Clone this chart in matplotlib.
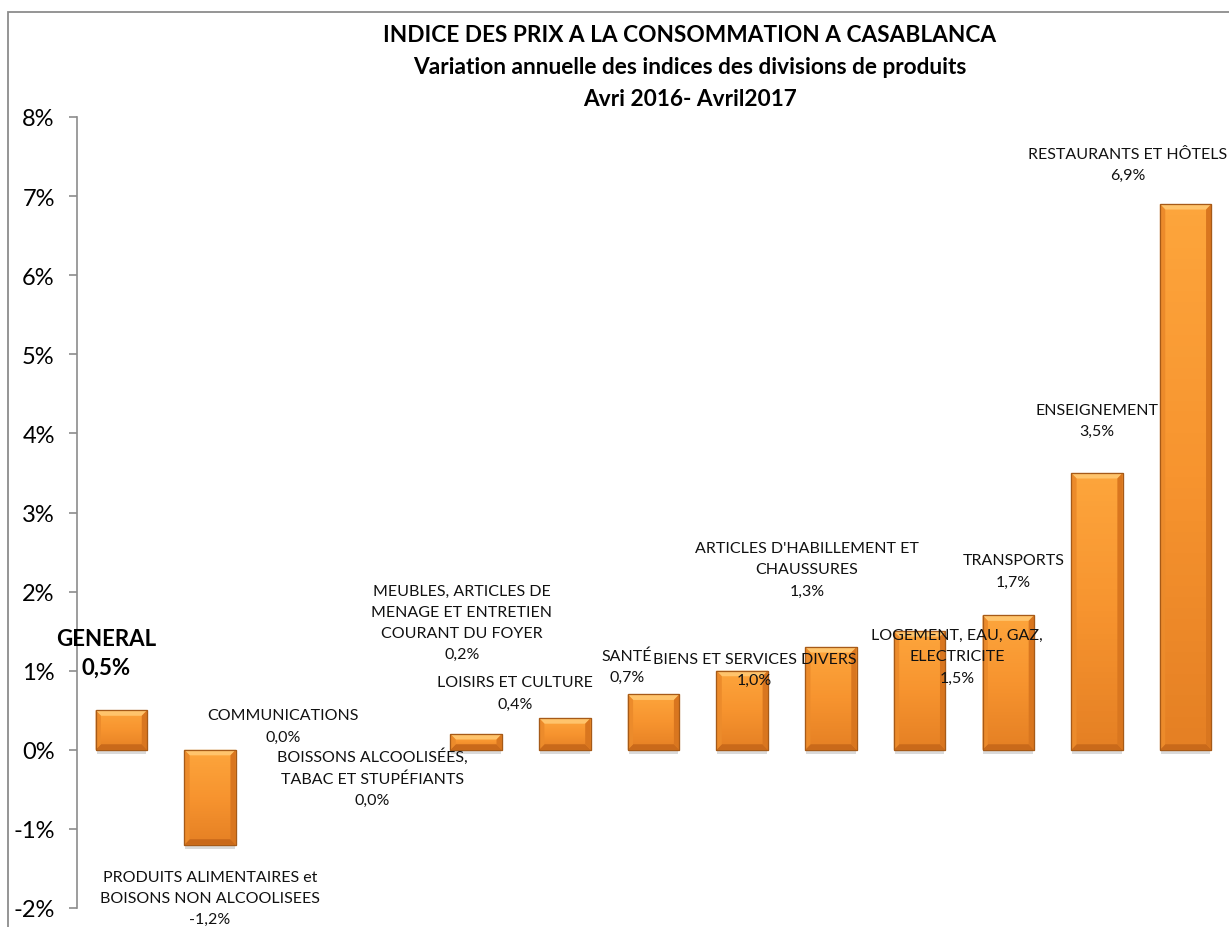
import numpy as np
import matplotlib.pyplot as plt
from matplotlib.patches import Polygon, Rectangle
from matplotlib.colors import LinearSegmentedColormap

plt.rcParams['font.family'] = ['Lato', 'DejaVu Sans']

# data
categories = [
    "GENERAL",
    "PRODUITS ALIMENTAIRES et\nBOISONS NON ALCOOLISEES",
    "COMMUNICATIONS",
    "BOISSONS ALCOOLISÉES,\nTABAC ET STUPÉFIANTS",
    "MEUBLES, ARTICLES DE\nMENAGE ET ENTRETIEN\nCOURANT DU FOYER",
    "LOISIRS ET CULTURE",
    "SANTÉ",
    "BIENS ET SERVICES DIVERS",
    "ARTICLES D'HABILLEMENT ET\nCHAUSSURES",
    "LOGEMENT, EAU, GAZ,\nELECTRICITE",
    "TRANSPORTS",
    "ENSEIGNEMENT",
    "RESTAURANTS ET HÔTELS",
]
values = [0.5, -1.2, 0.0, 0.0, 0.2, 0.4, 0.7, 1.0, 1.3, 1.5, 1.7, 3.5, 6.9]
value_labels = ["0,5%", "-1,2%", "0,0%", "0,0%", "0,2%", "0,4%", "0,7%",
                "1,0%", "1,3%", "1,5%", "1,7%", "3,5%", "6,9%"]
y_ticks = [-2, -1, 0, 1, 2, 3, 4, 5, 6, 7, 8]
title_lines = ["INDICE DES PRIX A LA CONSOMMATION A CASABLANCA",
               "Variation annuelle des indices des divisions de produits",
               "Avri 2016- Avril2017"]

# where each data label sits (category units, percent)
label_pos = [(-0.17, 1.23), (1.0, -1.87), (1.82, 0.30), (2.83, -0.35),
             (3.84, 1.61), (4.44, 0.72), (5.70, 1.06), (7.14, 1.02),
             (7.73, 2.28), (9.42, 1.18), (10.06, 2.26), (11.0, 4.16),
             (11.35, 7.40)]

fig = plt.figure(figsize=(12.29, 9.28), dpi=100)
ax = fig.add_axes([77 / 1229, 1 - 909 / 928, 1153 / 1229, (909 - 118) / 928])

x = np.arange(len(values))
bars = ax.bar(x, values, width=0.58, color='#F79530', edgecolor='#B0621C',
              linewidth=0.8, zorder=2)

grad = LinearSegmentedColormap.from_list('org', ['#FDA53C', '#F7942F', '#E58024'])
bx, by = 0.06, 0.07
for b in bars:
    x0, w = b.get_x(), b.get_width()
    y0, h = b.get_y(), b.get_height()
    if h == 0:
        b.set_visible(False)
        continue
    lo, hi = min(y0, y0 + h), max(y0, y0 + h)
    im = ax.imshow(np.linspace(0, 1, 50).reshape(-1, 1), cmap=grad, aspect='auto',
                   extent=[x0, x0 + w, lo, hi], origin='upper', zorder=2.1)
    im.set_clip_path(b)
    d = min(by, (hi - lo) / 2.5)
    # top highlight
    ax.add_patch(Polygon([(x0, hi), (x0 + w, hi), (x0 + w - bx, hi - d), (x0 + bx, hi - d)],
                         closed=True, color='#FFC46C', lw=0, zorder=2.2))
    # bottom shade
    ax.add_patch(Polygon([(x0, lo), (x0 + w, lo), (x0 + w - bx, lo + d), (x0 + bx, lo + d)],
                         closed=True, color='#C9691A', lw=0, zorder=2.2))
    # side shades
    ax.add_patch(Polygon([(x0, lo), (x0 + bx, lo + d), (x0 + bx, hi - d), (x0, hi)],
                         closed=True, color='#EC8B2B', lw=0, zorder=2.2))
    ax.add_patch(Polygon([(x0 + w, lo), (x0 + w - bx, lo + d), (x0 + w - bx, hi - d), (x0 + w, hi)],
                         closed=True, color='#D9761F', lw=0, zorder=2.2))
    ax.add_patch(Rectangle((x0, lo), w, hi - lo, fill=False, ec='#A65A18', lw=0.9, zorder=2.3))
    # soft shadow below
    ax.add_patch(Rectangle((x0 + 0.01, lo - 0.05), w - 0.02, 0.05, color='#DADADA',
                           lw=0, zorder=1.5))

for i, (cat, lab) in enumerate(zip(categories, value_labels)):
    lx, ly = label_pos[i]
    if i == 0:
        ax.text(lx, ly, cat + "\n" + lab, ha='center', va='center', fontsize=16,
                fontweight='bold', linespacing=1.45, zorder=5)
    else:
        ax.text(lx, ly, cat + "\n" + lab, ha='center', va='center', fontsize=11.5,
                linespacing=1.65, zorder=5, color='#111111')

ax.set_xlim(-0.5, len(values) - 0.5)
ax.set_ylim(-2, 8)
ax.set_yticks(y_ticks)
ax.set_yticklabels([f"{t}%" for t in y_ticks], fontsize=17)
ax.set_xticks([])
for s in ['top', 'right', 'bottom']:
    ax.spines[s].set_visible(False)
ax.spines['left'].set_color('#8C8C8C')
ax.spines['left'].set_linewidth(1.2)
ax.tick_params(axis='y', direction='out', length=6, width=1.2, color='#8C8C8C', pad=10)
ax.patch.set_alpha(0)

for line, ypx in zip(title_lines, [35, 68, 100]):
    fig.text(690 / 1229, 1 - ypx / 928, line, ha='center', va='center',
             fontsize=16.3, fontweight='bold')

# outer chart border
fig.patches.append(Rectangle((7.5 / 1229, -0.1), 1.2, 1.1 - 12.5 / 928, fill=False,
                             ec='#8C8C8C', lw=1.3, transform=fig.transFigure, figure=fig))

fig.savefig('out.png', dpi=100)
